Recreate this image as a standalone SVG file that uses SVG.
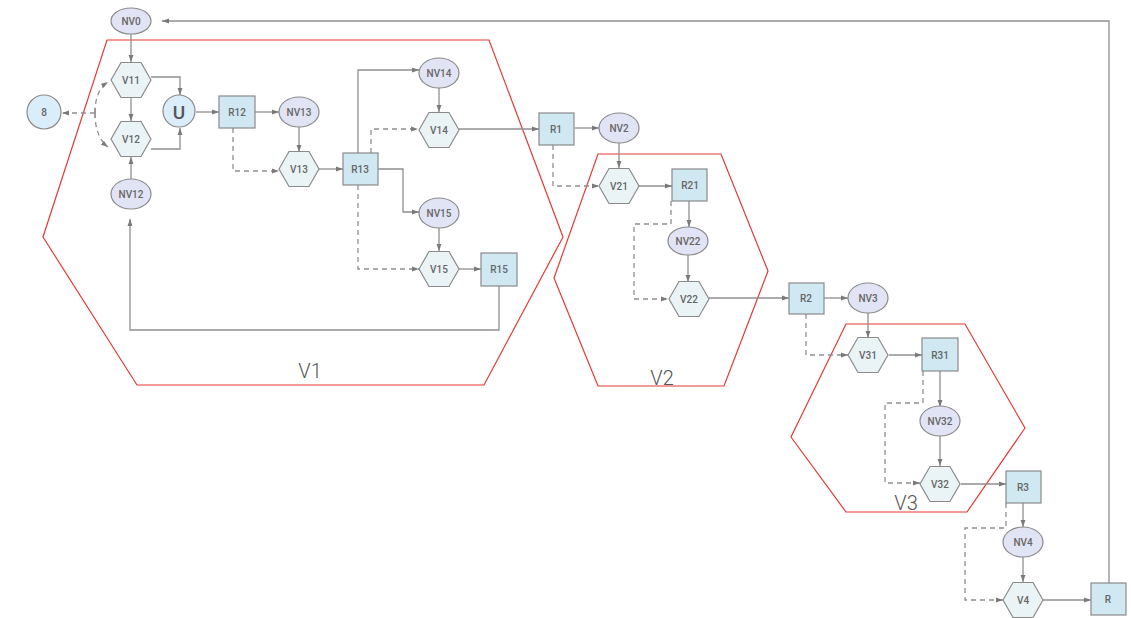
<svg xmlns="http://www.w3.org/2000/svg" xmlns:xlink="http://www.w3.org/1999/xlink" width="1131" height="618" viewBox="0 0 1131 618">
  <style>
    .ell { fill: #e1e4f4; stroke: #8a8a8a; stroke-width: 1.2; }
    .hex { fill: #eaf4f7; stroke: #8a8a8a; stroke-width: 1.2; }
    .box { fill: #cfe8f2; stroke: #8a8a8a; stroke-width: 1.2; }
    .circ { fill: #d9eefa; stroke: #8a8a8a; stroke-width: 1.2; }
    .lbl { font-family: Roboto, "Liberation Sans", sans-serif; font-size: 10px; font-weight: 500; fill: #666; text-anchor: middle; dominant-baseline: central; }
    .grp { font-family: Roboto, "Liberation Sans", sans-serif; font-size: 20px; font-weight: 300; fill: #555; text-anchor: middle; }
    .zone { fill: none; stroke: #e53935; stroke-width: 1.2; }
    .ln { fill: none; stroke: #8f8f8f; stroke-width: 1.3; }
    .arr { marker-end: url(#ah); }
    .dash { stroke-dasharray: 5 4; }
  </style>
  <defs>
    <marker id="ah" viewBox="0 0 10 10" refX="10" refY="5" markerWidth="7" markerHeight="7" markerUnits="userSpaceOnUse" orient="auto">
      <path d="M0,1.5 L10,5 L0,8.5 z" fill="#7a7a7a"/>
    </marker>
    <path id="hexshape" d="M-20,0 L-10,-17.5 L10,-17.5 L20,0 L10,17.5 L-10,17.5 z"/>
  </defs>

  <rect width="1131" height="618" fill="#ffffff"/>

  <!-- stage outlines -->
  <g id="zones">
    <polygon class="zone" points="107,40 489,40 563,237 484,385 137,385 43,237"/>
    <polygon class="zone" points="598,154 721,154 768,271 724,386 598,386 554,278"/>
    <polygon class="zone" points="846,324 965,324 1025,428 967,512 846,512 791,437"/>
    <text class="grp" x="310" y="378">V1</text>
    <text class="grp" x="662" y="385">V2</text>
    <text class="grp" x="906" y="510">V3</text>
  </g>

  <!-- connectors -->
  <g id="connectors">
    <!-- input 8 fan-out -->
    <path class="ln dash arr" d="M95,113 L62,113"/>
    <path class="ln" d="M95,108 L95,118"/>
    <path class="ln dash arr" d="M95,113 C95,98 99,88 108,82"/>
    <path class="ln dash arr" d="M95,113 C95,128 99,140 108,147"/>

    <path class="ln arr" d="M131,34 L131,62"/>
    <path class="ln arr" d="M131,97 L131,121"/>
    <path class="ln arr" d="M131,179 L131,157"/>
    <path class="ln arr" d="M151,77 L180,77 L180,95"/>
    <path class="ln arr" d="M151,149 L180,149 L180,128"/>
    <path class="ln arr" d="M196,112 L219,112"/>
    <path class="ln arr" d="M255,112 L279,112"/>
    <path class="ln dash arr" d="M233,128 L233,171 L279,171"/>
    <path class="ln arr" d="M299,127 L299,152"/>
    <path class="ln arr" d="M319,169 L343,169"/>

    <path class="ln arr" d="M358,153 L358,70 L419,70"/>
    <path class="ln dash arr" d="M371,153 L371,129 L418,129"/>
    <path class="ln arr" d="M377,169 L403,169 L403,212 L419,212"/>
    <path class="ln dash arr" d="M358,185 L358,269 L419,269"/>
    <path class="ln arr" d="M439,88 L439,112"/>
    <path class="ln arr" d="M439,228 L439,251"/>
    <path class="ln arr" d="M459,269 L481,269"/>
    <path class="ln arr" d="M499,286 L499,330 L130,330 L130,219"/>
    <path class="ln arr" d="M459,129 L539,129"/>

    <path class="ln arr" d="M575,128 L599,128"/>
    <path class="ln dash arr" d="M553,145 L553,186 L599,186"/>
    <path class="ln arr" d="M619,143 L619,168"/>
    <path class="ln arr" d="M639,186 L672,186"/>
    <path class="ln arr" d="M689,201 L689,227"/>
    <path class="ln dash arr" d="M671,201 L671,224 L634,224 L634,299 L668,299"/>
    <path class="ln arr" d="M688,255 L688,282"/>
    <path class="ln arr" d="M709,298 L789,298"/>

    <path class="ln arr" d="M824,298 L848,298"/>
    <path class="ln dash arr" d="M806,314 L806,355 L848,355"/>
    <path class="ln arr" d="M868,313 L868,338"/>
    <path class="ln arr" d="M889,355 L922,355"/>
    <path class="ln arr" d="M940,371 L940,407"/>
    <path class="ln dash arr" d="M923,371 L923,403 L885,403 L885,483 L920,483"/>
    <path class="ln arr" d="M940,436 L940,466"/>
    <path class="ln arr" d="M961,484 L1006,484"/>

    <path class="ln arr" d="M1023,503 L1023,527"/>
    <path class="ln dash arr" d="M1006,503 L1006,528 L965,528 L965,600 L1003,600"/>
    <path class="ln arr" d="M1023,557 L1023,582"/>
    <path class="ln arr" d="M1043,600 L1091,600"/>
    <path class="ln arr" d="M1109,583 L1109,21 L162,21"/>
  </g>

  <!-- nodes -->
  <g id="n8"><circle class="circ" cx="44" cy="112" r="17"/><text class="lbl" x="44" y="112">8</text></g>
  <g id="NV0"><ellipse class="ell" cx="131" cy="21" rx="20" ry="13"/><text class="lbl" x="131" y="21">NV0</text></g>
  <g id="V11"><use href="#hexshape" class="hex" x="131" y="80"/><text class="lbl" x="131" y="80">V11</text></g>
  <g id="V12"><use href="#hexshape" class="hex" x="131" y="139"/><text class="lbl" x="131" y="139">V12</text></g>
  <g id="NV12"><ellipse class="ell" cx="131" cy="194" rx="20" ry="15"/><text class="lbl" x="131" y="194">NV12</text></g>
  <g id="U"><circle class="circ" cx="179" cy="111" r="16"/><text class="lbl" x="179" y="112" style="font-size:19px;font-weight:500;fill:#555">U</text></g>
  <g id="R12"><rect class="box" x="219" y="96" width="36" height="32"/><text class="lbl" x="237" y="112">R12</text></g>
  <g id="NV13"><ellipse class="ell" cx="299" cy="112" rx="20" ry="15"/><text class="lbl" x="299" y="112">NV13</text></g>
  <g id="V13"><use href="#hexshape" class="hex" x="299" y="169"/><text class="lbl" x="299" y="169">V13</text></g>
  <g id="R13"><rect class="box" x="343" y="153" width="35" height="32"/><text class="lbl" x="360" y="169">R13</text></g>
  <g id="NV14"><ellipse class="ell" cx="439" cy="73" rx="20" ry="15"/><text class="lbl" x="439" y="73">NV14</text></g>
  <g id="V14"><use href="#hexshape" class="hex" x="439" y="130"/><text class="lbl" x="439" y="130">V14</text></g>
  <g id="NV15"><ellipse class="ell" cx="439" cy="213" rx="20" ry="15"/><text class="lbl" x="439" y="213">NV15</text></g>
  <g id="V15"><use href="#hexshape" class="hex" x="439" y="269"/><text class="lbl" x="439" y="269">V15</text></g>
  <g id="R15"><rect class="box" x="481" y="253" width="36" height="33"/><text class="lbl" x="499" y="269">R15</text></g>
  <g id="R1"><rect class="box" x="539" y="113" width="35" height="32"/><text class="lbl" x="556" y="129">R1</text></g>
  <g id="NV2"><ellipse class="ell" cx="619" cy="128" rx="20" ry="15"/><text class="lbl" x="619" y="128">NV2</text></g>
  <g id="V21"><use href="#hexshape" class="hex" x="619" y="186"/><text class="lbl" x="619" y="186">V21</text></g>
  <g id="R21"><rect class="box" x="672" y="169" width="35" height="32"/><text class="lbl" x="690" y="185">R21</text></g>
  <g id="NV22"><ellipse class="ell" cx="688" cy="241" rx="20" ry="14"/><text class="lbl" x="688" y="241">NV22</text></g>
  <g id="V22"><use href="#hexshape" class="hex" x="689" y="299"/><text class="lbl" x="689" y="299">V22</text></g>
  <g id="R2"><rect class="box" x="789" y="283" width="35" height="31"/><text class="lbl" x="806" y="298">R2</text></g>
  <g id="NV3"><ellipse class="ell" cx="868" cy="298" rx="20" ry="15"/><text class="lbl" x="868" y="298">NV3</text></g>
  <g id="V31"><use href="#hexshape" class="hex" x="868" y="355"/><text class="lbl" x="868" y="355">V31</text></g>
  <g id="R31"><rect class="box" x="922" y="338" width="36" height="33"/><text class="lbl" x="940" y="355">R31</text></g>
  <g id="NV32"><ellipse class="ell" cx="940" cy="421" rx="20" ry="15"/><text class="lbl" x="940" y="421">NV32</text></g>
  <g id="V32"><use href="#hexshape" class="hex" x="940" y="484"/><text class="lbl" x="940" y="484">V32</text></g>
  <g id="R3"><rect class="box" x="1006" y="471" width="35" height="32"/><text class="lbl" x="1023" y="487">R3</text></g>
  <g id="NV4"><ellipse class="ell" cx="1023" cy="542" rx="20" ry="15"/><text class="lbl" x="1023" y="542">NV4</text></g>
  <g id="V4"><use href="#hexshape" class="hex" x="1023" y="600"/><text class="lbl" x="1023" y="600">V4</text></g>
  <g id="R"><rect class="box" x="1091" y="583" width="35" height="32"/><text class="lbl" x="1108" y="599">R</text></g>
</svg>
